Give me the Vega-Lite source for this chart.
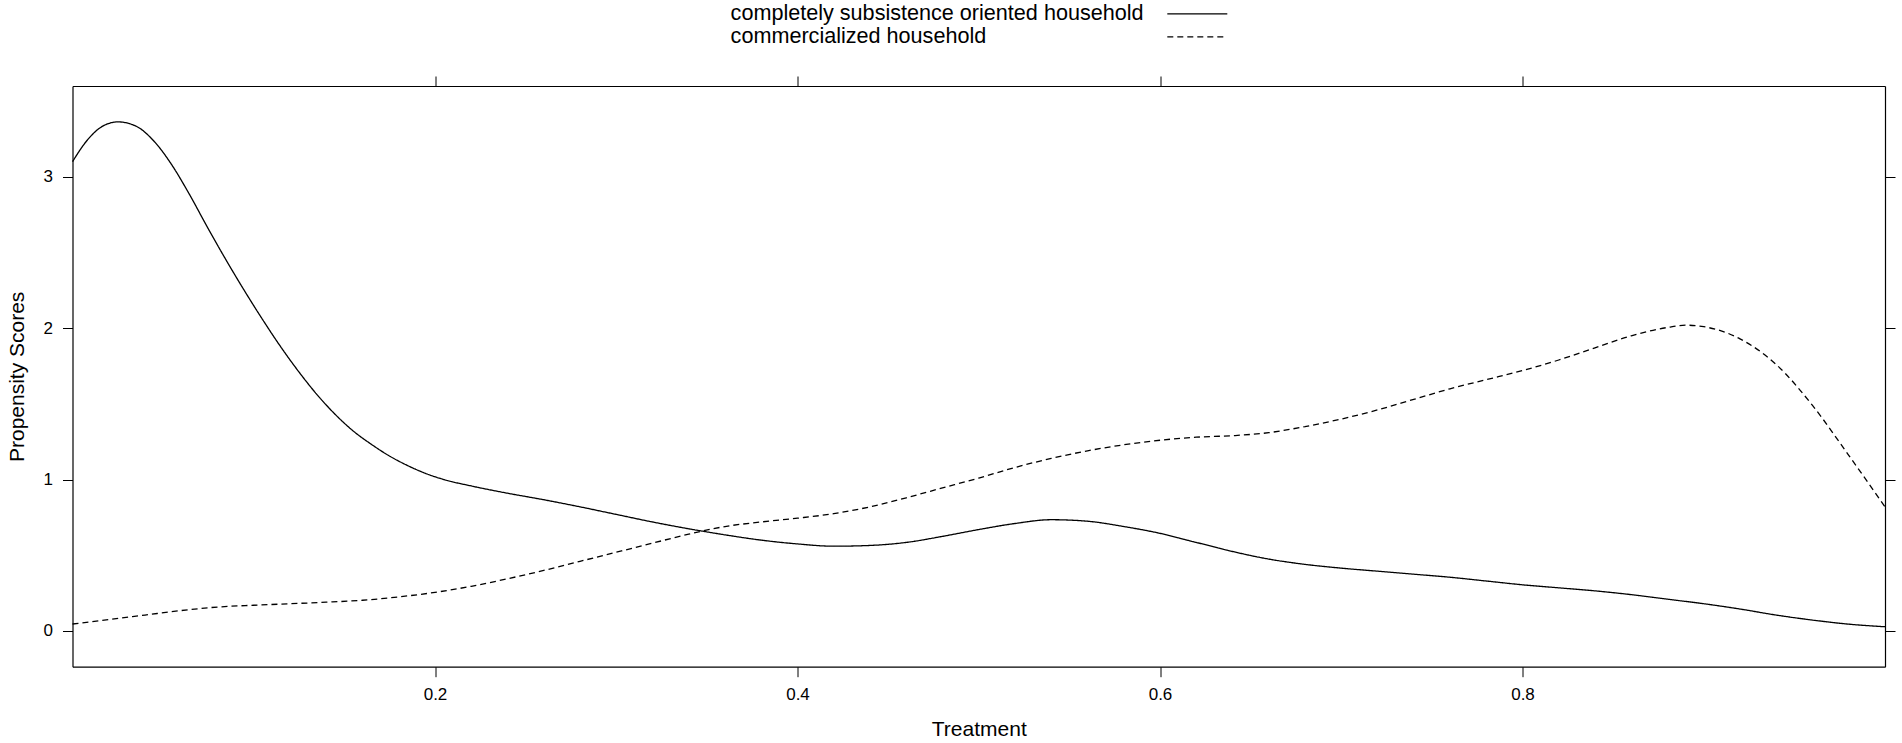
{
  "$schema": "https://vega.github.io/schema/vega-lite/v6.json",
  "autosize": {"type": "none"},
  "width": 1812.5,
  "height": 580.7,
  "padding": {"left": 72.5, "top": 86, "right": 17, "bottom": 76.3},
  "background": "white",
  "config": {
    "font": "Liberation Sans",
    "view": {"stroke": null},
    "axis": {
      "grid": false,
      "domainColor": "black",
      "domainWidth": 1.2,
      "tickColor": "black",
      "tickWidth": 1,
      "tickSize": 10,
      "labelColor": "black",
      "labelFontSize": 17,
      "labelFont": "Liberation Sans",
      "titleFont": "Liberation Sans",
      "titleFontSize": 21,
      "titleFontWeight": "normal",
      "titleColor": "black",
      "labelPadding": 10
    },
    "legend": {
      "orient": "none",
      "legendX": 1114,
      "legendY": -83,
      "direction": "vertical",
      "symbolType": "M-4,0H4",
      "symbolSize": 225,
      "symbolStrokeWidth": 1.2,
      "symbolStrokeColor": "black",
      "symbolFillColor": "transparent",
      "labelFont": "Liberation Sans",
      "labelFontSize": 21.6,
      "labelColor": "black",
      "labelAlign": "left",
      "labelOffset": -477.5,
      "labelLimit": 0,
      "rowPadding": 0,
      "padding": 0
    }
  },
  "data": {
    "values": [
      {"group": "completely subsistence oriented household", "treatment": 0.000, "density": 3.10},
      {"group": "completely subsistence oriented household", "treatment": 0.008, "density": 3.24},
      {"group": "completely subsistence oriented household", "treatment": 0.016, "density": 3.33},
      {"group": "completely subsistence oriented household", "treatment": 0.025, "density": 3.363},
      {"group": "completely subsistence oriented household", "treatment": 0.035, "density": 3.335},
      {"group": "completely subsistence oriented household", "treatment": 0.045, "density": 3.235},
      {"group": "completely subsistence oriented household", "treatment": 0.055, "density": 3.075},
      {"group": "completely subsistence oriented household", "treatment": 0.064, "density": 2.895},
      {"group": "completely subsistence oriented household", "treatment": 0.075, "density": 2.655},
      {"group": "completely subsistence oriented household", "treatment": 0.085, "density": 2.445},
      {"group": "completely subsistence oriented household", "treatment": 0.095, "density": 2.245},
      {"group": "completely subsistence oriented household", "treatment": 0.105, "density": 2.055},
      {"group": "completely subsistence oriented household", "treatment": 0.115, "density": 1.875},
      {"group": "completely subsistence oriented household", "treatment": 0.125, "density": 1.71},
      {"group": "completely subsistence oriented household", "treatment": 0.135, "density": 1.56},
      {"group": "completely subsistence oriented household", "treatment": 0.145, "density": 1.43},
      {"group": "completely subsistence oriented household", "treatment": 0.155, "density": 1.32},
      {"group": "completely subsistence oriented household", "treatment": 0.165, "density": 1.232},
      {"group": "completely subsistence oriented household", "treatment": 0.175, "density": 1.155},
      {"group": "completely subsistence oriented household", "treatment": 0.185, "density": 1.092},
      {"group": "completely subsistence oriented household", "treatment": 0.195, "density": 1.04},
      {"group": "completely subsistence oriented household", "treatment": 0.205, "density": 1.0},
      {"group": "completely subsistence oriented household", "treatment": 0.22, "density": 0.958},
      {"group": "completely subsistence oriented household", "treatment": 0.24, "density": 0.91},
      {"group": "completely subsistence oriented household", "treatment": 0.26, "density": 0.867},
      {"group": "completely subsistence oriented household", "treatment": 0.28, "density": 0.82},
      {"group": "completely subsistence oriented household", "treatment": 0.30, "density": 0.77},
      {"group": "completely subsistence oriented household", "treatment": 0.32, "density": 0.72},
      {"group": "completely subsistence oriented household", "treatment": 0.34, "density": 0.675},
      {"group": "completely subsistence oriented household", "treatment": 0.36, "density": 0.635},
      {"group": "completely subsistence oriented household", "treatment": 0.38, "density": 0.60},
      {"group": "completely subsistence oriented household", "treatment": 0.40, "density": 0.575},
      {"group": "completely subsistence oriented household", "treatment": 0.42, "density": 0.56},
      {"group": "completely subsistence oriented household", "treatment": 0.44, "density": 0.565},
      {"group": "completely subsistence oriented household", "treatment": 0.46, "density": 0.585},
      {"group": "completely subsistence oriented household", "treatment": 0.48, "density": 0.625},
      {"group": "completely subsistence oriented household", "treatment": 0.50, "density": 0.67},
      {"group": "completely subsistence oriented household", "treatment": 0.52, "density": 0.71},
      {"group": "completely subsistence oriented household", "treatment": 0.54, "density": 0.735},
      {"group": "completely subsistence oriented household", "treatment": 0.56, "density": 0.725},
      {"group": "completely subsistence oriented household", "treatment": 0.58, "density": 0.69},
      {"group": "completely subsistence oriented household", "treatment": 0.60, "density": 0.645},
      {"group": "completely subsistence oriented household", "treatment": 0.62, "density": 0.585},
      {"group": "completely subsistence oriented household", "treatment": 0.64, "density": 0.525},
      {"group": "completely subsistence oriented household", "treatment": 0.66, "density": 0.475},
      {"group": "completely subsistence oriented household", "treatment": 0.68, "density": 0.44},
      {"group": "completely subsistence oriented household", "treatment": 0.70, "density": 0.415},
      {"group": "completely subsistence oriented household", "treatment": 0.72, "density": 0.395},
      {"group": "completely subsistence oriented household", "treatment": 0.74, "density": 0.375},
      {"group": "completely subsistence oriented household", "treatment": 0.76, "density": 0.355},
      {"group": "completely subsistence oriented household", "treatment": 0.78, "density": 0.33},
      {"group": "completely subsistence oriented household", "treatment": 0.80, "density": 0.305},
      {"group": "completely subsistence oriented household", "treatment": 0.82, "density": 0.285},
      {"group": "completely subsistence oriented household", "treatment": 0.84, "density": 0.265},
      {"group": "completely subsistence oriented household", "treatment": 0.86, "density": 0.24},
      {"group": "completely subsistence oriented household", "treatment": 0.88, "density": 0.21},
      {"group": "completely subsistence oriented household", "treatment": 0.90, "density": 0.18},
      {"group": "completely subsistence oriented household", "treatment": 0.92, "density": 0.145},
      {"group": "completely subsistence oriented household", "treatment": 0.94, "density": 0.105},
      {"group": "completely subsistence oriented household", "treatment": 0.96, "density": 0.072},
      {"group": "completely subsistence oriented household", "treatment": 0.98, "density": 0.045},
      {"group": "completely subsistence oriented household", "treatment": 1.00, "density": 0.028},
      {"group": "commercialized household", "treatment": 0.00, "density": 0.046},
      {"group": "commercialized household", "treatment": 0.02, "density": 0.075},
      {"group": "commercialized household", "treatment": 0.04, "density": 0.105},
      {"group": "commercialized household", "treatment": 0.06, "density": 0.135},
      {"group": "commercialized household", "treatment": 0.08, "density": 0.158},
      {"group": "commercialized household", "treatment": 0.10, "density": 0.170},
      {"group": "commercialized household", "treatment": 0.12, "density": 0.180},
      {"group": "commercialized household", "treatment": 0.14, "density": 0.190},
      {"group": "commercialized household", "treatment": 0.16, "density": 0.203},
      {"group": "commercialized household", "treatment": 0.18, "density": 0.225},
      {"group": "commercialized household", "treatment": 0.20, "density": 0.255},
      {"group": "commercialized household", "treatment": 0.22, "density": 0.295},
      {"group": "commercialized household", "treatment": 0.24, "density": 0.345},
      {"group": "commercialized household", "treatment": 0.26, "density": 0.40},
      {"group": "commercialized household", "treatment": 0.28, "density": 0.46},
      {"group": "commercialized household", "treatment": 0.30, "density": 0.52},
      {"group": "commercialized household", "treatment": 0.32, "density": 0.58},
      {"group": "commercialized household", "treatment": 0.34, "density": 0.64},
      {"group": "commercialized household", "treatment": 0.36, "density": 0.69},
      {"group": "commercialized household", "treatment": 0.38, "density": 0.72},
      {"group": "commercialized household", "treatment": 0.40, "density": 0.745},
      {"group": "commercialized household", "treatment": 0.42, "density": 0.775},
      {"group": "commercialized household", "treatment": 0.44, "density": 0.82},
      {"group": "commercialized household", "treatment": 0.46, "density": 0.88},
      {"group": "commercialized household", "treatment": 0.48, "density": 0.945},
      {"group": "commercialized household", "treatment": 0.50, "density": 1.01},
      {"group": "commercialized household", "treatment": 0.52, "density": 1.08},
      {"group": "commercialized household", "treatment": 0.54, "density": 1.14},
      {"group": "commercialized household", "treatment": 0.56, "density": 1.19},
      {"group": "commercialized household", "treatment": 0.58, "density": 1.23},
      {"group": "commercialized household", "treatment": 0.60, "density": 1.26},
      {"group": "commercialized household", "treatment": 0.62, "density": 1.28},
      {"group": "commercialized household", "treatment": 0.64, "density": 1.29},
      {"group": "commercialized household", "treatment": 0.66, "density": 1.31},
      {"group": "commercialized household", "treatment": 0.68, "density": 1.35},
      {"group": "commercialized household", "treatment": 0.70, "density": 1.40},
      {"group": "commercialized household", "treatment": 0.72, "density": 1.46},
      {"group": "commercialized household", "treatment": 0.74, "density": 1.53},
      {"group": "commercialized household", "treatment": 0.76, "density": 1.60},
      {"group": "commercialized household", "treatment": 0.78, "density": 1.66},
      {"group": "commercialized household", "treatment": 0.80, "density": 1.72},
      {"group": "commercialized household", "treatment": 0.82, "density": 1.79},
      {"group": "commercialized household", "treatment": 0.84, "density": 1.87},
      {"group": "commercialized household", "treatment": 0.86, "density": 1.95},
      {"group": "commercialized household", "treatment": 0.88, "density": 2.005},
      {"group": "commercialized household", "treatment": 0.89, "density": 2.02},
      {"group": "commercialized household", "treatment": 0.90, "density": 2.01},
      {"group": "commercialized household", "treatment": 0.92, "density": 1.93},
      {"group": "commercialized household", "treatment": 0.94, "density": 1.76},
      {"group": "commercialized household", "treatment": 0.96, "density": 1.49},
      {"group": "commercialized household", "treatment": 0.98, "density": 1.16},
      {"group": "commercialized household", "treatment": 1.00, "density": 0.82}
    ]
  },
  "layer": [
    {
      "mark": {"type": "line", "color": "black", "strokeWidth": 1.3, "interpolate": "monotone"},
      "encoding": {
        "x": {
          "field": "treatment", "type": "quantitative",
          "scale": {"domain": [0, 1], "nice": false, "zero": false},
          "axis": {"orient": "bottom", "values": [0.2, 0.4, 0.6, 0.8], "format": ".1f", "title": "Treatment", "titlePadding": 16}
        },
        "y": {
          "field": "density", "type": "quantitative",
          "scale": {"domain": [-0.236, 3.6], "nice": false, "zero": false},
          "axis": {"orient": "left", "values": [0, 1, 2, 3], "format": "d", "title": "Propensity Scores", "titlePadding": 16}
        },
        "strokeDash": {
          "field": "group", "type": "nominal",
          "scale": {"domain": ["completely subsistence oriented household", "commercialized household"], "range": [[1, 0], [6, 4]]},
          "legend": {"title": null}
        }
      }
    },
    {
      "mark": {"type": "line", "color": "black", "opacity": 0},
      "encoding": {
        "x": {
          "field": "treatment", "type": "quantitative",
          "axis": {"orient": "top", "values": [0.2, 0.4, 0.6, 0.8], "labels": false, "title": null}
        },
        "y": {
          "field": "density", "type": "quantitative",
          "axis": {"orient": "right", "values": [0, 1, 2, 3], "labels": false, "title": null}
        },
        "detail": {"field": "group", "type": "nominal"}
      }
    }
  ],
  "resolve": {"axis": {"x": "independent", "y": "independent"}}
}
